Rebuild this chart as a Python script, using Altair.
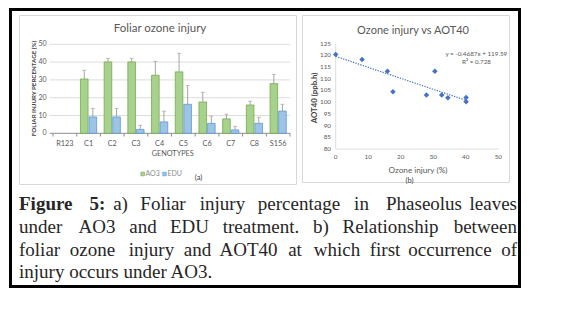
import altair as alt
import pandas as pd

# ---------------- data ----------------
genotypes = ["R123", "C1", "C2", "C3", "C4", "C5", "C6", "C7", "C8", "S156"]
ao3 = [0, 30.5, 40.1, 40.1, 32.6, 34.5, 17.6, 8.1, 15.9, 27.9]
ao3_err = [0, 4.9, 2.0, 2.0, 7.8, 10.4, 5.4, 2.6, 2.1, 5.2]
edu = [0, 9.2, 9.2, 2.2, 6.4, 16.3, 5.6, 1.9, 5.6, 12.5]
edu_err = [0, 4.8, 4.8, 2.3, 6.0, 10.5, 4.0, 2.0, 3.4, 3.8]
aot40 = [120.3, 113.2, 102.0, 100.2, 103.0, 101.9, 104.4, 118.2, 113.2, 103.0]

ticks_a = [0, 10, 20, 30, 40, 50]
ticks_bx = [0, 10, 20, 30, 40, 50]
ticks_by = [80, 85, 90, 95, 100, 105, 110, 115, 120, 125]

caption_lines = [
    [("Figure", "b", "l"), ("5:", "b", "c"), ("a)", "n", "c"), ("Foliar", "n", "c"),
     ("injury", "n", "c"), ("percentage", "n", "c"), ("in", "n", "c"),
     ("Phaseolus", "n", "c"), ("leaves", "n", "r")],
    [("under", "n", "l"), ("AO3", "n", "c"), ("and", "n", "c"), ("EDU", "n", "c"),
     ("treatment.", "n", "c"), ("b)", "n", "c"), ("Relationship", "n", "c"),
     ("between", "n", "r")],
    [("foliar", "n", "l"), ("ozone", "n", "c"), ("injury", "n", "c"), ("and", "n", "c"),
     ("AOT40", "n", "c"), ("at", "n", "c"), ("which", "n", "c"), ("first", "n", "c"),
     ("occurrence", "n", "c"), ("of", "n", "r")],
    [("injury occurs under AO3.", "n", "l")],
]

# ---------------- layout (pixels) ----------------
cap_x = [
    [11, 89.5, 112.5, 155, 214.5, 291, 353.5, 416, 509],
    [11, 89, 135, 181.5, 253, 313, 382.5, 509],
    [11, 84.5, 143.5, 189.5, 240.5, 287, 329, 377, 442, 509],
    [11],
]
cap_y = [202.3, 225.0, 247.7, 270.4]

SANS = "Lato"
SERIF = "Liberation Serif"
GRAY = "#595959"
ERRC = "#A5A5A5"

df = pd.DataFrame({"g": genotypes, "ao3": ao3, "ao3_err": ao3_err,
                   "edu": edu, "edu_err": edu_err, "aot40": aot40})
one = pd.DataFrame({"k": [0]})


def label(text, x, y, size, color=GRAY, weight="normal", angle=0,
          align="center", font=SANS, baseline="middle"):
    return alt.Chart(one).mark_text(
        text=text, font=font, fontSize=size, color=color, fontWeight=weight,
        angle=angle, align=align, baseline=baseline
    ).encode(x=alt.value(x), y=alt.value(y))


# ---------------- panel a ----------------
XA = alt.Scale(type="band", domain=genotypes, range=[45, 282],
               paddingInner=0, paddingOuter=0)
YA = alt.Scale(domain=[0, 50], range=[125.3, 36.3], nice=False)


def xa(**kw):
    return alt.X("g:N", scale=XA, axis=None, **kw)


tick_df_a = pd.DataFrame({"v": ticks_a})
grid_a = alt.Chart(pd.DataFrame({"v": ticks_a[1:]})).mark_rule(
    color="#D9D9D9", strokeWidth=0.9).encode(
    y=alt.Y("v:Q", scale=YA, axis=None), x=alt.value(41.7), x2=alt.value(282))
ylab_a = alt.Chart(tick_df_a).mark_text(
    align="right", baseline="middle", font=SANS, fontSize=7, color=GRAY).encode(
    y=alt.Y("v:Q", scale=YA, axis=None), x=alt.value(38.5), text="v:Q")
xline_a = alt.Chart(pd.DataFrame({"lo": [0]})).mark_rule(
    color="#8C8C8C", strokeWidth=1).encode(
    y=alt.Y("lo:Q", scale=YA, axis=None), x=alt.value(41.7), x2=alt.value(282))
xticks_a = alt.Chart(df).mark_rule(color="#8C8C8C", strokeWidth=1).encode(
    x=xa(bandPosition=0), y=alt.value(125.3), y2=alt.value(128.5))
xtick_end = alt.Chart(one).mark_rule(color="#8C8C8C", strokeWidth=1).encode(
    x=alt.value(282), y=alt.value(125.3), y2=alt.value(128.5))
xlab_a = alt.Chart(df).mark_text(
    font=SANS, fontSize=7.3, color=GRAY, baseline="middle").encode(
    x=xa(), y=alt.value(136), text="g:N")


def series(field, errfield, off, fill, stroke):
    base = alt.Chart(df).transform_filter(f"datum.{field} > 0").transform_calculate(
        top=f"datum.{field} + datum.{errfield}")
    bar = base.mark_bar(width=7.6, xOffset=off, fill=fill, stroke=stroke,
                        strokeWidth=0.8).encode(
        x=xa(), y=alt.Y(f"{field}:Q", scale=YA, axis=None))
    err = base.mark_rule(xOffset=off, color=ERRC, strokeWidth=1).encode(
        x=xa(), y=alt.Y(f"{field}:Q", scale=YA, axis=None), y2="top:Q")
    cap = base.mark_tick(xOffset=off, color=ERRC, size=4, thickness=1).encode(
        x=xa(), y=alt.Y("top:Q", scale=YA, axis=None))
    return [bar, err, cap]


GREEN_F, GREEN_S = "#A9D18E", "#70AD47"
BLUE_F, BLUE_S = "#9DC3E6", "#5B9BD5"

legend_a = [
    alt.Chart(one).mark_square(size=13, fill=GREEN_F, stroke=GREEN_S, strokeWidth=0.6,
                               opacity=1).encode(x=alt.value(134.7), y=alt.value(166)),
    label("AO3", 137.5, 166, 7, color="#8C8C8C", align="left"),
    alt.Chart(one).mark_square(size=13, fill=BLUE_F, stroke=BLUE_S, strokeWidth=0.6,
                               opacity=1).encode(x=alt.value(156.5), y=alt.value(166)),
    label("EDU", 159.5, 166, 7, color="#8C8C8C", align="left"),
    label("(a)", 190.5, 170, 7.5, color="#404040"),
]

panel_a = alt.layer(
    grid_a, xline_a, xticks_a, xtick_end,
    *series("ao3", "ao3_err", -4.3, GREEN_F, GREEN_S),
    *series("edu", "edu_err", 4.3, BLUE_F, BLUE_S),
    ylab_a, xlab_a,
    label("Foliar ozone injury", 152, 21.3, 11.5, color=GRAY),
    label("GENOTYPES", 164.7, 145.5, 7.3, color=GRAY),
    label("FOLIAR INJURY PERCENTAGE (%)", 25.5, 80.5, 6.2, color="#404040",
          weight="bold", angle=270),
    *legend_a,
)

# ---------------- panel b ----------------
XB = alt.Scale(domain=[0, 50], range=[327.7, 490.3], nice=False, zero=False)
YB = alt.Scale(domain=[80, 125], range=[141, 35.5], nice=False, zero=False)

axis_b = pd.DataFrame({"x0": [0], "x1": [50], "y0": [80], "y1": [125]})
yline_b = alt.Chart(axis_b).mark_rule(color="#D9D9D9", strokeWidth=0.9).encode(
    x=alt.X("x0:Q", scale=XB, axis=None), y=alt.Y("y0:Q", scale=YB, axis=None), y2="y1:Q")
xline_b = alt.Chart(axis_b).mark_rule(color="#D9D9D9", strokeWidth=0.9).encode(
    x=alt.X("x0:Q", scale=XB, axis=None), x2="x1:Q", y=alt.Y("y0:Q", scale=YB, axis=None))
xlab_b = alt.Chart(pd.DataFrame({"v": ticks_bx})).mark_text(
    font=SANS, fontSize=6.3, color=GRAY, baseline="middle").encode(
    x=alt.X("v:Q", scale=XB, axis=None), y=alt.value(149.3), text="v:Q")
ylab_b = alt.Chart(pd.DataFrame({"v": ticks_by})).mark_text(
    font=SANS, fontSize=6.3, color=GRAY, baseline="middle", align="right").encode(
    y=alt.Y("v:Q", scale=YB, axis=None), x=alt.value(323), text="v:Q")
trend_b = alt.Chart(df).transform_regression("ao3", "aot40").mark_line(
    color="#4472C4", strokeWidth=1.2, strokeDash=[1.3, 1.3]).encode(
    x=alt.X("ao3:Q", scale=XB, axis=None), y=alt.Y("aot40:Q", scale=YB, axis=None))
pts_b = alt.Chart(df).mark_point(shape="diamond", filled=True, size=30,
                                 color="#4472C4", opacity=1).encode(
    x=alt.X("ao3:Q", scale=XB, axis=None), y=alt.Y("aot40:Q", scale=YB, axis=None))

panel_b = alt.layer(
    yline_b, xline_b, trend_b, pts_b, xlab_b, ylab_b,
    label("Ozone injury vs AOT40", 405, 22.7, 11, color=GRAY),
    label("y = -0.4687x + 119.59", 468.3, 46, 6.3, color=GRAY),
    label("R² = 0.728", 468.5, 54.3, 6.3, color=GRAY),
    label("Ozone injury (%)", 410, 162.7, 8.2, color=GRAY),
    label("(b)", 401.5, 172.5, 7.5, color="#404040"),
    label("AOT40 (ppb.h)", 306.5, 90, 7.8, color="#404040", weight="bold", angle=270),
)

# ---------------- frame and caption ----------------
def box(x0, x1, y0, y1, stroke, width, fill_op):
    return alt.Chart(one).mark_rect(
        fill="white", fillOpacity=fill_op, stroke=stroke, strokeWidth=width).encode(
        x=alt.value(x0), x2=alt.value(x1), y=alt.value(y0), y2=alt.value(y1))


frame = [
    box(11.5, 288.5, 7.5, 176.5, "#D9D9D9", 1, 1),
    box(294.5, 501.5, 7.5, 174.5, "#D9D9D9", 1, 1),
    box(2.5, 511.5, 1.5, 278.5, "black", 3, 0),
]

ALIGN = {"l": "left", "c": "center", "r": "right"}
caption = []
for words, xs, yb in zip(caption_lines, cap_x, cap_y):
    for (w, wt, al), xv in zip(words, xs):
        caption.append(label(w, xv, yb, 19, color="#262626",
                             weight="bold" if wt == "b" else "normal",
                             align=ALIGN[al], font=SERIF, baseline="alphabetic"))

chart = alt.layer(
    *frame, panel_a, panel_b, *caption
).resolve_scale(
    x="independent", y="independent"
).properties(
    width=520, height=285, padding=0,
    autosize=alt.AutoSizeParams(type="none"),
    background="white",
).configure_view(stroke=None)

chart.save("out.html", embed_options={"renderer": "svg", "actions": False})
